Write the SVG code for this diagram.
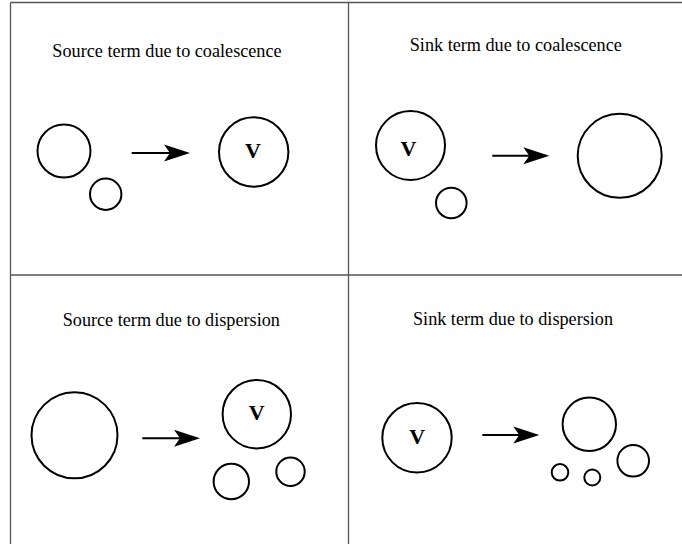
<svg xmlns="http://www.w3.org/2000/svg" width="682" height="544" viewBox="0 0 682 544">
<style>
.frame{stroke:#555;stroke-width:1.3;fill:none}
.c{fill:none;stroke:#000;stroke-width:2}
.t{font-family:'Liberation Serif',serif;font-size:18.2px;fill:#000;text-anchor:middle}
.v{font-family:'Liberation Serif',serif;font-size:22px;font-weight:bold;fill:#000;text-anchor:middle}
.a{stroke:#000;stroke-width:2;fill:none}
</style>
<defs>
<path id="head" d="M0,0 L-26,-8.5 L-20,0 L-26,8.5 Z" fill="#000"/>
</defs>
<rect width="682" height="544" fill="#fff"/>
<g id="frame">
<line class="frame" x1="10.5" y1="2.5" x2="682" y2="2.5"/>
<line class="frame" x1="10.5" y1="2.5" x2="10.5" y2="544"/>
<line class="frame" x1="348.5" y1="2.5" x2="348.5" y2="544"/>
<line class="frame" x1="10.5" y1="275" x2="682" y2="275"/>
</g>
<g id="q1">
<text class="t" x="167" y="57">Source term due to coalescence</text>
<circle class="c" cx="64" cy="151" r="26.5"/>
<circle class="c" cx="105.7" cy="194.2" r="15.7"/>
<circle class="c" cx="253.7" cy="152" r="34.7"/>
<text class="v" x="253" y="158.3">V</text>
</g>
<g id="q2">
<text class="t" x="515.8" y="51">Sink term due to coalescence</text>
<circle class="c" cx="410.5" cy="145.5" r="34.5"/>
<text class="v" x="408.5" y="156">V</text>
<circle class="c" cx="451.3" cy="203" r="15.3"/>
<circle class="c" cx="619.7" cy="155.8" r="42"/>
</g>
<g id="q3">
<text class="t" x="171.3" y="326">Source term due to dispersion</text>
<circle class="c" cx="74.5" cy="435.3" r="43"/>
<circle class="c" cx="256.8" cy="414.2" r="34.2"/>
<text class="v" x="256.7" y="420">V</text>
<circle class="c" cx="231.3" cy="481.5" r="17.7"/>
<circle class="c" cx="290.5" cy="471.7" r="14.2"/>
</g>
<g id="q4">
<text class="t" x="513" y="325">Sink term due to dispersion</text>
<circle class="c" cx="417" cy="437.8" r="34.7"/>
<text class="v" x="417.3" y="444.3">V</text>
<circle class="c" cx="589.3" cy="424.3" r="26.7"/>
<circle class="c" cx="633.2" cy="460.8" r="15.8"/>
<circle class="c" cx="560" cy="472.3" r="8.3"/>
<circle class="c" cx="592.3" cy="477.5" r="8"/>
</g>
<g id="connectors">
<line class="a" x1="131.7" y1="153" x2="172" y2="153"/>
<use href="#head" x="190" y="153"/>
<line class="a" x1="492.3" y1="155.7" x2="531" y2="155.7"/>
<use href="#head" x="549.3" y="155.7"/>
<line class="a" x1="142.3" y1="438.3" x2="182" y2="438.3"/>
<use href="#head" x="200" y="438.3"/>
<line class="a" x1="482.3" y1="435" x2="521" y2="435"/>
<use href="#head" x="539.3" y="435"/>
</g>
</svg>
